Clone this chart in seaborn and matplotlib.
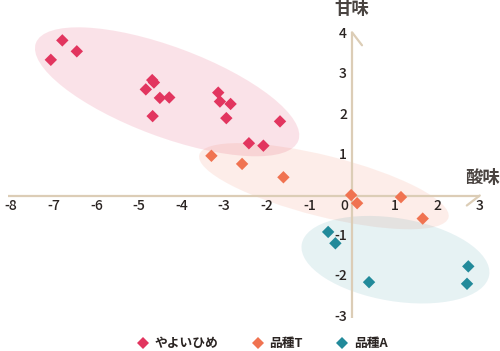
import numpy as np
import pandas as pd
import matplotlib
matplotlib.use("Agg")
import matplotlib.pyplot as plt
from matplotlib.patches import Ellipse
from matplotlib.transforms import Affine2D
import seaborn as sns

# ---- data ----
yayoi_x = [-6.80, -6.46, -7.07, -4.69, -4.65, -4.84, -4.51, -4.29, -4.68,
           -3.14, -3.10, -2.85, -2.95, -1.69, -2.42, -2.08]
yayoi_y = [3.83, 3.56, 3.35, 2.85, 2.79, 2.62, 2.41, 2.42, 1.96,
           2.54, 2.32, 2.26, 1.91, 1.83, 1.29, 1.23]
t_x = [-3.30, -2.58, -1.61, -0.02, 0.12, 1.15, 1.66]
t_y = [0.98, 0.78, 0.45, 0.01, -0.19, -0.04, -0.57]
a_x = [-0.56, -0.39, 0.40, 2.73, 2.70]
a_y = [-0.90, -1.18, -2.14, -1.75, -2.18]
series = ["やよいひめ", "品種T", "品種A"]
colors = ["#e2355f", "#f07351", "#228a9a"]
x_ticks = [-8, -7, -6, -5, -4, -3, -2, -1, 1, 2, 3]
y_ticks = [-3, -2, -1, 1, 2, 3, 4]
x_title = "酸味"
y_title = "甘味"
# group ellipses: centre (data), width/height (px), angle (deg)
ell_center = [(-4.34, 2.56), (-0.66, 0.23), (1.02, -1.585)]
ell_size = [(280, 90), (257, 61), (190, 83)]
ell_angle = [-20.4, -14.1, -9.4]
ell_alpha = [0.14, 0.12, 0.11]

df = pd.DataFrame({
    "x": yayoi_x + t_x + a_x,
    "y": yayoi_y + t_y + a_y,
    "品種": [series[0]] * len(yayoi_x) + [series[1]] * len(t_x) + [series[2]] * len(a_x),
})

sns.set_theme(style="white")
plt.rcParams["font.family"] = ["Noto Sans CJK JP", "DejaVu Sans"]

SX, SY = 42.6, 40.5  # px per unit
fig = plt.figure(figsize=(5.0, 3.51), dpi=100)
ax = fig.add_axes([0, 0, 1, 1])
ax.set_xlim(-352 / SX, 148 / SX)
ax.set_ylim(-155.5 / SY, 195.5 / SY)
ax.axis("off")

px = Affine2D().scale(1 / SX, 1 / SY) + ax.transData
for (cx, cy), (w, h), ang, c, al in zip(ell_center, ell_size, ell_angle, colors, ell_alpha):
    e = Ellipse((cx * SX, cy * SY), w, h, angle=ang, transform=px,
                facecolor=c, alpha=al, edgecolor="none", zorder=1)
    ax.add_patch(e)

axis_col = "#dccdb6"
ax.plot([-8.07, 3.0], [0, 0], color=axis_col, lw=1.6, zorder=2, solid_capstyle="butt")
ax.plot([3.0, 3.0 - 13 / SX], [0, -10 / SY], color=axis_col, lw=1.6, zorder=2)
ax.plot([0, 0], [-3.02, 4.03], color=axis_col, lw=1.6, zorder=2, solid_capstyle="butt")
ax.plot([0, 10 / SX], [4.03, 4.03 - 13 / SY], color=axis_col, lw=1.6, zorder=2)

sns.scatterplot(data=df, x="x", y="y", hue="品種", hue_order=series,
                palette=colors, marker="D", s=40, linewidth=0, ax=ax, zorder=3)

txt_col = "#2a2422"
for v in x_ticks:
    ax.text(v, -10 / SY, str(v), ha="center", va="center", fontsize=10,
            color=txt_col, fontweight="medium")
ax.text(-8 / SX, -10 / SY, "0", ha="center", va="center", fontsize=10,
        color=txt_col, fontweight="medium")
for v in y_ticks:
    ax.text(-5 / SX, v, str(v), ha="right", va="center", fontsize=10,
            color=txt_col, fontweight="medium")

ax.text(0, 186.5 / SY, y_title, ha="center", va="center", fontsize=12.5,
        fontweight="bold", color="#4a4441")
ax.text(130.5 / SX, 18 / SY, x_title, ha="center", va="center", fontsize=12.5,
        fontweight="bold", color="#4a4441")

leg = ax.legend(loc="center", bbox_to_anchor=(262 / 500, 1 - 344 / 351), ncol=3,
                frameon=False, fontsize=9.2, handletextpad=0.4, columnspacing=2.6,
                markerscale=1.0, handlelength=1.0)
for t in leg.get_texts():
    t.set_fontweight("bold")
    t.set_color(txt_col)

fig.savefig("out.png", dpi=100)
